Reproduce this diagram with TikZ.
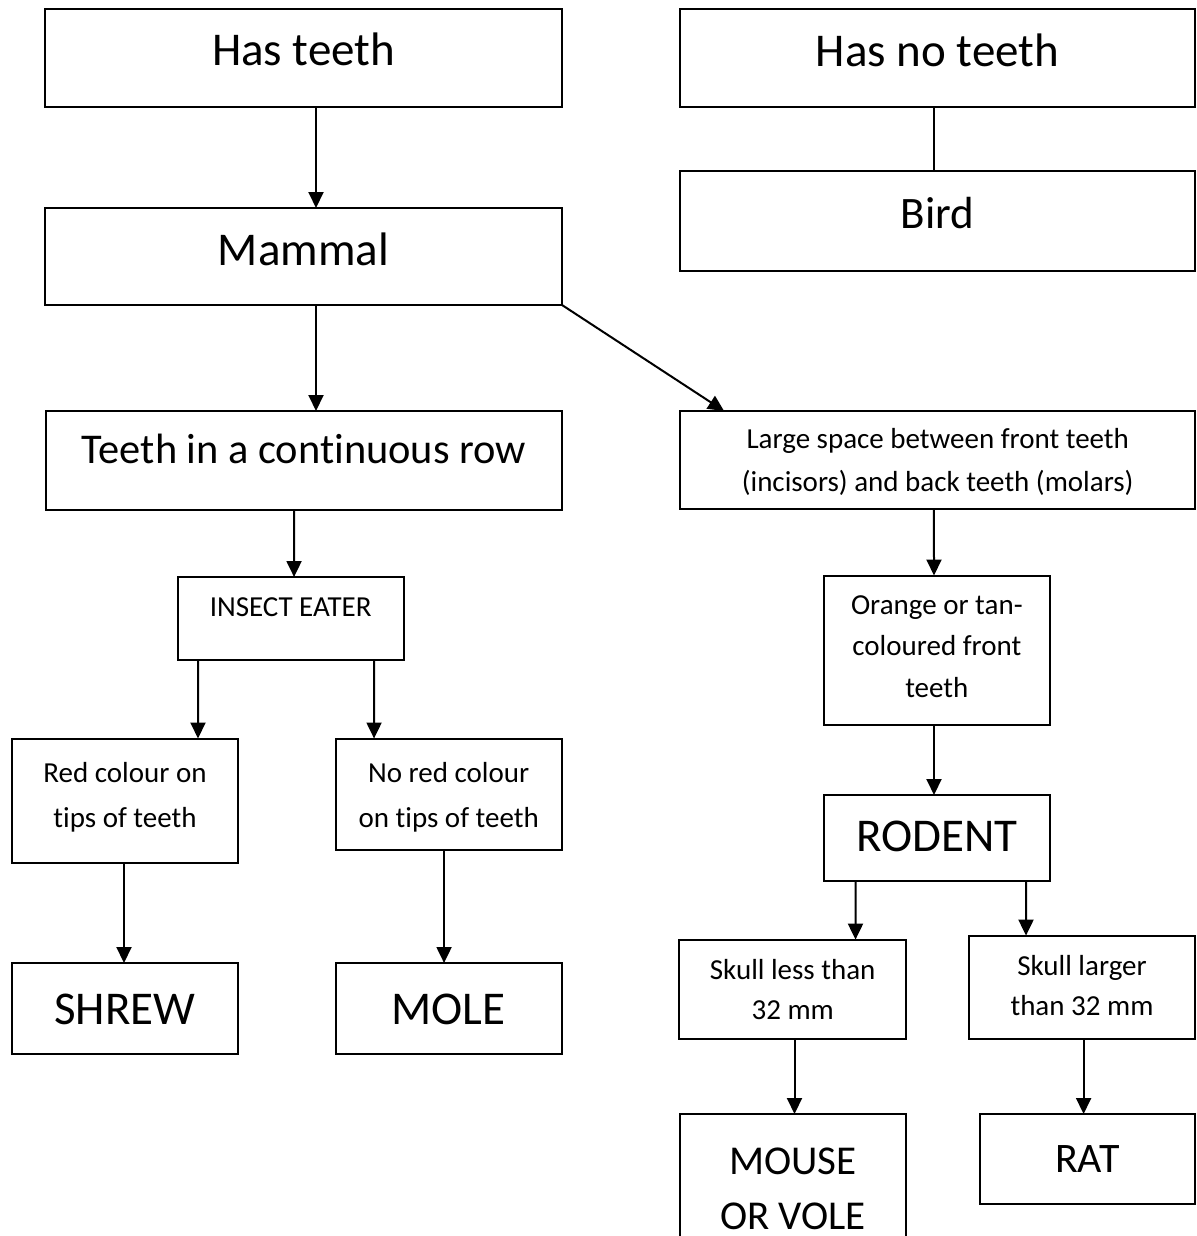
\documentclass[tikz,border=0pt]{standalone}
\usepackage{fontspec}
\setmainfont{Carlito}[Ligatures=NoCommon]
\usetikzlibrary{arrows.meta,fit}
\newcommand\pp[1]{#1*0.5pt}
\begin{document}
\begin{tikzpicture}[x=0.5pt,y=-0.5pt,
  box/.style={draw, line width=1pt, inner sep=0pt, outer sep=0pt, rectangle},
  arr/.style={line width=1pt, -{Triangle[width=7.5pt,length=8pt]}},
  conn/.style={line width=1pt},
  txt/.style={anchor=base, inner sep=0pt, outer sep=0pt, align=center},
  big/.style={txt, font=\fontsize{23.5pt}{28pt}\selectfont},
  small/.style={txt, font=\fontsize{14.5pt}{21pt}\selectfont},
]
\clip (0,0) rectangle (1196,1236);
\fill[white] (0,0) rectangle (1196,1236);

% ---- boxes
\node[box, fit={(45,9) (562,107)}] (hasteeth) {};
\node[box, fit={(45,208) (562,305)}] (mammal) {};
\node[box, fit={(46,411) (562,510)}] (teethrow) {};
\node[box, fit={(177.5,577) (404,660)}] (insect) {};
\node[box, fit={(12,738.5) (238,863)}] (red) {};
\node[box, fit={(335.5,738.5) (562,849.5)}] (nored) {};
\node[box, fit={(12,963) (238,1054)}] (shrew) {};
\node[box, fit={(335.5,963) (562,1054)}] (mole) {};

\node[box, fit={(679.5,9) (1195,107)}] (hasnoteeth) {};
\node[box, fit={(679.5,171) (1195,271)}] (bird) {};
\node[box, fit={(679.5,411) (1195,509)}] (large) {};
\node[box, fit={(823.6,575.5) (1050,724.7)}] (orange) {};
\node[box, fit={(823.6,795) (1050,881)}] (rodent) {};
\node[box, fit={(679.4,939.6) (906,1038.6)}] (skullless) {};
\node[box, fit={(969,935.6) (1195,1038.6)}] (skulllarger) {};
\node[box, fit={(680,1114) (906,1270)}] (mouse) {};
\node[box, fit={(979.7,1114) (1195,1203.8)}] (rat) {};

% ---- texts (anchor = baseline of the last line)
\node[big] (t-hasteeth) at (303.5,66) {Has teeth};
\node[big] (t-mammal) at (303.5,265) {Mammal};
\node[txt, font=\fontsize{21.2pt}{26pt}\selectfont] (t-teethrow) at (304,463) {Teeth in a continuous row};
\node[small] (t-insect) at (290.7,616) {INSECT EATER};
\node[txt, font=\fontsize{14.5pt}{22.5pt}\selectfont] (t-red) at (125,827) {Red colour on\\tips of teeth};
\node[txt, font=\fontsize{14.5pt}{22.5pt}\selectfont] (t-nored) at (448.7,827) {No red colour\\on tips of teeth};
\node[big] (t-shrew) at (125,1024) {SHREW};
\node[big] (t-mole) at (448.7,1024) {MOLE};

\node[big] (t-hasnoteeth) at (937.5,66.7) {Has no teeth};
\node[txt, font=\fontsize{22.5pt}{27pt}\selectfont] (t-bird) at (937.5,228) {Bird};
\node[txt, font=\fontsize{14.5pt}{21.2pt}\selectfont] (t-large) at (937.7,491) {Large space between front teeth\\(incisors) and back teeth (molars)};
\node[txt, font=\fontsize{14.5pt}{20.7pt}\selectfont] (t-orange) at (936.8,697) {Orange or tan-\\coloured front\\teeth};
\node[big] (t-rodent) at (936.8,851.4) {RODENT};
\node[txt, font=\fontsize{14.5pt}{20.2pt}\selectfont] (t-skullless) at (792.7,1019.8) {Skull less than\\32 mm};
\node[txt, font=\fontsize{14.5pt}{20.2pt}\selectfont] (t-skulllarger) at (1082,1015.8) {Skull larger\\than 32 mm};
\node[txt, text depth=0pt, font=\fontsize{20.5pt}{27.5pt}\selectfont] (t-mouse) at (793,1229) {MOUSE\\OR VOLE};
\node[txt, font=\fontsize{21pt}{26pt}\selectfont] (t-rat) at (1087.3,1172) {RAT};

% ---- connectors
\draw[arr] ([xshift=\pp{12.5}]hasteeth.south) -- ([xshift=\pp{12.5}]mammal.north);
\draw[arr] ([xshift=\pp{12.5}]mammal.south) -- ([xshift=\pp{12}]teethrow.north);
\draw[arr] (mammal.south east) -- ([xshift=\pp{44.6}]large.north west);
\draw[arr] ([xshift=\pp{-10}]teethrow.south) -- ([xshift=\pp{3.3}]insect.north);
\draw[arr] ([xshift=\pp{-92.7}]insect.south) -- ([xshift=\pp{73}]red.north);
\draw[arr] ([xshift=\pp{83.3}]insect.south) -- ([xshift=\pp{-74.7}]nored.north);
\draw[arr] ([xshift=\pp{-1}]red.south) -- ([xshift=\pp{-1}]shrew.north);
\draw[arr] ([xshift=\pp{-4.7}]nored.south) -- ([xshift=\pp{-4.7}]mole.north);

\draw[conn] ([xshift=\pp{-3.3}]hasnoteeth.south) -- ([xshift=\pp{-3.3}]bird.north);
\draw[arr] ([xshift=\pp{-3.3}]large.south) -- ([xshift=\pp{-2.8}]orange.north);
\draw[arr] ([xshift=\pp{-2.8}]orange.south) -- ([xshift=\pp{-2.8}]rodent.north);
\draw[arr] ([xshift=\pp{-81.3}]rodent.south) -- ([xshift=\pp{62.8}]skullless.north);
\draw[arr] ([xshift=\pp{89.2}]rodent.south) -- ([xshift=\pp{-56}]skulllarger.north);
\draw[arr] ([xshift=\pp{1.8}]skullless.south) -- ([xshift=\pp{1.8}]skullless.south |- mouse.north);
\draw[arr] ([xshift=\pp{1.6}]skulllarger.south) -- ([xshift=\pp{1.6}]skulllarger.south |- rat.north);
\end{tikzpicture}
\end{document}
